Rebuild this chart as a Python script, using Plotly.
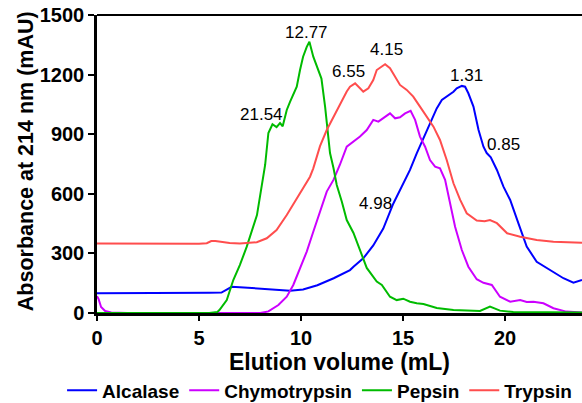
import plotly.graph_objects as go

# ---- data ----
alcalase_x = [0, 2, 4, 5.5, 6.1, 6.4, 6.6, 7.0, 7.8, 8.5, 9.46, 10.1, 10.8, 11.6, 12.4, 12.57, 13.05,
              13.54, 14.03, 14.52, 14.94, 15.34, 15.67, 16.16, 16.65, 16.9, 17.14, 17.47, 17.63, 17.88,
              18.04, 18.2, 18.45, 18.7, 18.94, 19.1, 19.3, 19.6, 19.92, 20.25, 20.65, 21.06, 21.55,
              22.2, 22.86, 23.35, 23.77]
alcalase_y = [99, 99, 100, 102, 103, 120, 132, 130, 124, 118, 112, 118, 140, 175, 216, 233, 275,
              340, 425, 550, 640, 720, 804, 921, 1030, 1072, 1089, 1114, 1131, 1143,
              1139, 1106, 1039, 921, 837, 805, 784, 720, 636, 569, 452, 334, 258,
              216, 175, 153, 166]

chymo_x = [0, 0.08, 0.2, 0.4, 0.7, 1.5, 8.0, 8.4, 8.89, 9.3, 9.62, 9.95, 10.28, 10.6, 10.93, 11.26,
           11.59, 11.9, 12.24, 12.57, 12.89, 13.22, 13.54, 13.79, 14.03, 14.36, 14.61, 14.85, 15.1,
           15.37, 15.59, 15.83, 16.08, 16.32, 16.57, 16.81, 17.06, 17.3, 17.55, 17.88, 18.2, 18.61,
           18.94, 19.35, 19.75, 20.25, 20.74, 21.06, 21.39, 21.88, 22.37, 23.0, 23.77]
chymo_y = [85, 70, 30, 10, 3, 0, 0, 8, 40, 82, 141, 225, 309, 409, 510, 611,
           670, 745, 837, 862, 888, 921, 972, 963, 980, 1005, 980, 985, 1005,
           1018, 972, 888, 837, 770, 737, 728, 670, 552, 434, 317, 233, 170,
           152, 141, 82, 57, 65, 55, 57, 49, 24, 7, 2]

pepsin_x = [0, 5.5, 5.9, 6.0, 6.36, 6.68, 7.0, 7.34, 7.84, 8.1, 8.24, 8.4, 8.6, 8.8, 8.97, 9.1, 9.3,
            9.46, 9.79, 9.95, 10.1, 10.28, 10.41, 10.6, 10.77, 11.0, 11.18, 11.29, 11.42, 11.59,
            11.75, 12.0, 12.24, 12.57, 12.89, 13.22, 13.71, 13.96, 14.36, 14.69, 15.01, 15.34,
            15.67, 16.0, 16.65, 17.47, 18.77, 19.26, 19.75, 20.4, 23.77]
pepsin_y = [0, 0, 5, 15, 65, 166, 241, 334, 493, 644, 745, 906, 950, 936, 956, 940, 1022,
            1063, 1139, 1223, 1290, 1340, 1365, 1290, 1240, 1180, 1038, 921, 805, 730,
            644, 560, 468, 403, 317, 227, 158, 141, 82, 65, 72, 57,
            49, 45, 25, 15, 10, 32, 12, 5, 2]

trypsin_x = [0, 2, 5.0, 5.38, 5.6, 5.8, 6.03, 6.5, 7.0, 7.83, 8.32, 8.8, 9.3, 9.79, 10.11, 10.44,
             10.6, 10.93, 11.26, 11.59, 11.9, 12.24, 12.4, 12.65, 12.89, 13.05, 13.3, 13.54, 13.71,
             13.96, 14.12, 14.36, 14.61, 14.85, 15.18, 15.5, 15.83, 16.16, 16.49, 16.81, 17.14,
             17.47, 17.8, 18.12, 18.61, 19.0, 19.26, 19.6, 20.1, 20.74, 21.55, 22.37, 23.0, 23.77]
trypsin_y = [350, 348, 348, 351, 362, 362, 358, 352, 350, 356, 376, 418, 493, 577, 628, 686,
             728, 840, 921, 988, 1045, 1115, 1139, 1156, 1131, 1114, 1131, 1173, 1223,
             1240, 1252, 1232, 1190, 1148, 1123, 1089, 1039, 988, 938, 871, 770,
             653, 569, 502, 465, 462, 468, 452, 401, 384, 367, 359, 356, 354]

series_names = ["Alcalase", "Chymotrypsin", "Pepsin", "Trypsin"]
series_colors = ["#0000FF", "#CC00FF", "#00BB00", "#FF4D4D"]

peak_labels = ["12.77", "21.54", "6.55", "4.15", "1.31", "0.85", "4.98"]
peak_label_x = [10.28, 8.07, 12.35, 14.2, 18.09, 19.92, 13.63]
peak_label_y = [1410, 997, 1215, 1324, 1193, 846, 552]

x_ticks = [0, 5, 10, 15, 20]
y_ticks = [0, 300, 600, 900, 1200, 1500]

x_title = "Elution volume (mL)"
y_title = "Absorbance at 214 nm (mAU)"

FONT = "Liberation Sans, Arial, sans-serif"

fig = go.Figure()
for name, color, xs, ys in zip(series_names, series_colors,
                               [alcalase_x, chymo_x, pepsin_x, trypsin_x],
                               [alcalase_y, chymo_y, pepsin_y, trypsin_y]):
    fig.add_trace(go.Scatter(x=xs, y=ys, mode="lines", name=name,
                             line=dict(color=color, width=2)))

for t, xv, yv in zip(peak_labels, peak_label_x, peak_label_y):
    fig.add_annotation(x=xv, y=yv, text=t, showarrow=False,
                       font=dict(family=FONT, size=17, color="black"))

# y-axis title placed as a rotated text so it sits where the reference has it
fig.add_annotation(xref="paper", yref="paper", x=-0.146, y=0.51, text=y_title,
                   textangle=-90, showarrow=False, xanchor="center", yanchor="middle",
                   font=dict(family=FONT, size=21.5, color="black", weight="bold"))

fig.update_layout(
    width=582, height=403,
    margin=dict(l=97, r=0, t=15, b=90, autoexpand=False),
    plot_bgcolor="white", paper_bgcolor="white",
    font=dict(family=FONT, color="black"),
    legend=dict(orientation="h", x=-0.072, xanchor="left", y=-0.196, yanchor="top",
                font=dict(family=FONT, size=19, color="black", weight="bold"),
                itemwidth=30, tracegroupgap=0, bgcolor="rgba(0,0,0,0)"),
    shapes=[dict(type="line", xref="paper", yref="paper", x0=0, x1=1, y0=1, y1=1,
                 line=dict(color="black", width=2))],
)
fig.update_xaxes(range=[0, 23.77], tickvals=x_ticks, showgrid=False, zeroline=False,
                 showline=True, linecolor="black", linewidth=2.5,
                 ticks="outside", ticklen=5, tickwidth=2, tickcolor="black",
                 tickfont=dict(family=FONT, size=20, weight="bold"),
                 title=dict(text=x_title, standoff=5,
                            font=dict(family=FONT, size=23, weight="bold")))
fig.update_yaxes(range=[0, 1500], tickvals=y_ticks, showgrid=False, zeroline=False,
                 showline=True, linecolor="black", linewidth=2.5,
                 ticks="outside", ticklen=6, tickwidth=2, tickcolor="black",
                 tickfont=dict(family=FONT, size=20, weight="bold"))

fig.write_html("out.html")
